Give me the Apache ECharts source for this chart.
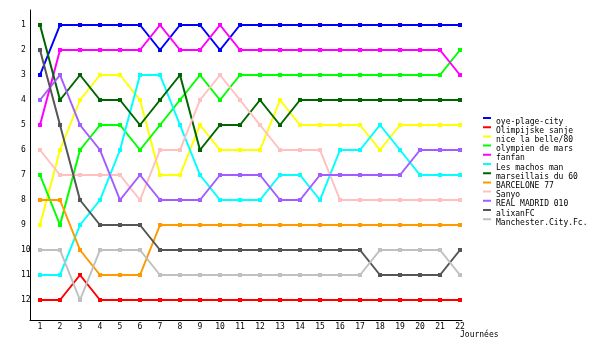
<!DOCTYPE html>
<html>
<head>
<meta charset="utf-8">
<script src="https://cdn.jsdelivr.net/npm/echarts@6/dist/echarts.min.js"></script>
<style>html,body{margin:0;padding:0;background:#fff}#c{width:600px;height:350px}</style>
</head>
<body>
<div id="c"></div>
<script>
var rounds = [1,2,3,4,5,6,7,8,9,10,11,12,13,14,15,16,17,18,19,20,21,22];
var rankTicks = [1,2,3,4,5,6,7,8,9,10,11,12];
var teamNames = ["oye-plage-city","Olimpijske sanje","nice la belle/80","olympien de mars","fanfan","Les machos man","marseillais du 60","BARCELONE 77","Sanyo","REAL MADRID 010","alixanFC","Manchester.City.Fc."];
var teamColors = ["#0000ff","#ff0000","#ffff00","#00ff00","#ff00ff","#00ffff","#006600","#ff9900","#ffc0c0","#a35cff","#555555","#c0c0c0"];

var oyePlageCity      = [3,1,1,1,1,1,2,1,1,2,1,1,1,1,1,1,1,1,1,1,1,1];
var olimpijskeSanje   = [12,12,11,12,12,12,12,12,12,12,12,12,12,12,12,12,12,12,12,12,12,12];
var niceLaBelle       = [9,6,4,3,3,4,7,7,5,6,6,6,4,5,5,5,5,6,5,5,5,5];
var olympienDeMars    = [7,9,6,5,5,6,5,4,3,4,3,3,3,3,3,3,3,3,3,3,3,2];
var fanfan            = [5,2,2,2,2,2,1,2,2,1,2,2,2,2,2,2,2,2,2,2,2,3];
var lesMachosMan      = [11,11,9,8,6,3,3,5,7,8,8,8,7,7,8,6,6,5,6,7,7,7];
var marseillaisDu60   = [1,4,3,4,4,5,4,3,6,5,5,4,5,4,4,4,4,4,4,4,4,4];
var barcelone77       = [8,8,10,11,11,11,9,9,9,9,9,9,9,9,9,9,9,9,9,9,9,9];
var sanyo             = [6,7,7,7,7,8,6,6,4,3,4,5,6,6,6,8,8,8,8,8,8,8];
var realMadrid010     = [4,3,5,6,8,7,8,8,8,7,7,7,8,8,7,7,7,7,7,6,6,6];
var alixanFC          = [2,5,8,9,9,9,10,10,10,10,10,10,10,10,10,10,10,11,11,11,11,10];
var manchesterCityFc  = [10,10,12,10,10,10,11,11,11,11,11,11,11,11,11,11,11,10,10,10,10,11];

var allRanks = [oyePlageCity,olimpijskeSanje,niceLaBelle,olympienDeMars,fanfan,lesMachosMan,marseillaisDu60,barcelone77,sanyo,realMadrid010,alixanFC,manchesterCityFc];

var FONT = "DejaVu Sans Mono";
var chart = echarts.init(document.getElementById('c'), null, {renderer:'canvas'});
var series = teamNames.map(function(name, i){
  return {
    name: name,
    type: 'line',
    data: rounds.map(function(r, j){ return [r, allRanks[i][j]]; }),
    symbol: 'rect',
    symbolSize: 4,
    showSymbol: true,
    lineStyle: {width: 2, color: teamColors[i]},
    itemStyle: {color: teamColors[i]},
    emphasis: {disabled: true},
    z: 2
  };
});

chart.setOption({
  animation: false,
  backgroundColor: '#ffffff',
  grid: {left: 30, right: 138, top: 10, bottom: 30, containLabel: false},
  xAxis: {
    type: 'value', min: 0.5, max: 22.1,
    name: 'Journées', nameLocation: 'end', nameGap: 0,
    nameTextStyle: {fontFamily: FONT, fontSize: 8, color: '#000', align: 'left', verticalAlign: 'top', padding: [11,0,0,-2]},
    axisLine: {show: true, lineStyle: {color: '#000', width: 1}},
    axisTick: {show: false},
    splitLine: {show: false},
    axisLabel: {customValues: rounds, margin: 3, fontFamily: FONT, fontSize: 8, color: '#000'}
  },
  yAxis: {
    type: 'value', min: 0.4, max: 12.8, inverse: true,
    axisLine: {show: true, lineStyle: {color: '#000', width: 1}},
    axisTick: {show: false},
    splitLine: {show: false},
    axisLabel: {customValues: rankTicks, margin: 9, align: 'left', fontFamily: FONT, fontSize: 8, color: '#000'}
  },
  legend: {
    orient: 'vertical',
    left: 483, top: 117,
    itemWidth: 8, itemHeight: 9,
    itemGap: 0.2,
    padding: 0,
    icon: 'path://M0,0H8V2H0Z M0,9H0.01V9.01H0Z',
    textStyle: {fontFamily: FONT, fontSize: 8, color: '#000', lineHeight: 9},
    data: teamNames.map(function(n){ return {name: n}; })
  },
  series: series
});
</script>
</body>
</html>
